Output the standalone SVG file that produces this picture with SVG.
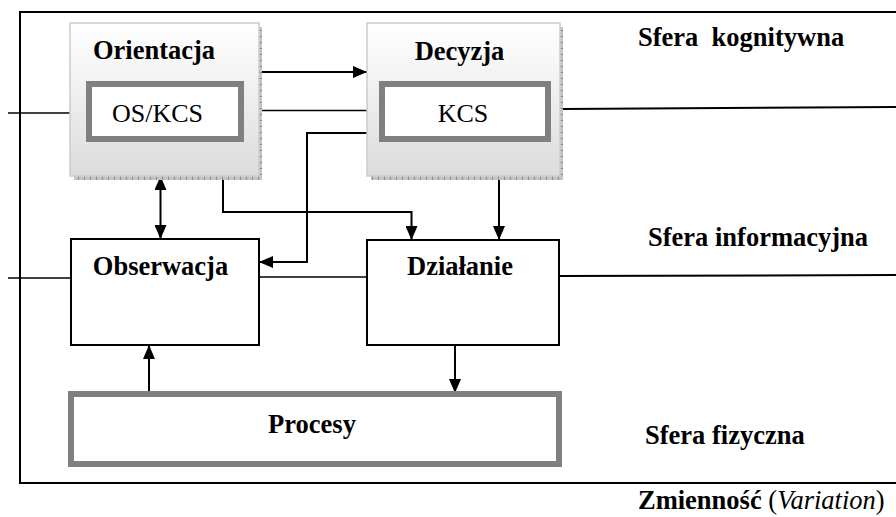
<svg xmlns="http://www.w3.org/2000/svg" width="896" height="517" viewBox="0 0 896 517">
<defs>
<linearGradient id="gbox" x1="0" y1="0" x2="0" y2="1">
<stop offset="0" stop-color="#ffffff"/>
<stop offset="1" stop-color="#dcdcdc"/>
</linearGradient>
<pattern id="hatch" width="6" height="6" patternUnits="userSpaceOnUse">
<rect width="6" height="6" fill="#c4c4c4"/>
<rect x="0" y="0" width="1" height="6" fill="#8a8a8a"/>
<rect x="0" y="0" width="6" height="1" fill="#8a8a8a"/>
</pattern>
<marker id="arr" viewBox="0 0 14 12" refX="14" refY="6" markerWidth="14" markerHeight="12" markerUnits="userSpaceOnUse" orient="auto-start-reverse">
<path d="M0,0 L14,6 L0,12 z" fill="#000"/>
</marker>
</defs>
<style>
.b{font-family:"Liberation Serif","Times New Roman",serif;font-weight:bold;font-size:26.5px;fill:#000}
.r{font-family:"Liberation Serif","Times New Roman",serif;font-size:26px;fill:#000}
.ln{fill:none;stroke:#000;stroke-width:2}
.lt{fill:none;stroke:#000;stroke-width:1.5}
.plain{fill:#fff;stroke:#000;stroke-width:2}
.inner{fill:#fff;stroke:#808080;stroke-width:6}
.grad{fill:url(#gbox);stroke:#cccccc;stroke-width:1.5}
</style>
<rect width="896" height="517" fill="#fff"/>
<g id="frame">
<path class="ln" d="M896,12 H20 V483 H896"/>
</g>
<g id="connectors">
<line class="lt" x1="8" y1="113" x2="70" y2="113"/>
<line class="lt" x1="8" y1="278" x2="71" y2="278"/>
<line class="ln" x1="259" y1="72" x2="367" y2="72" marker-end="url(#arr)"/>
<line class="lt" x1="259" y1="110.5" x2="367" y2="110.5"/>
<path class="ln" d="M367,133 H307 V262 H259" marker-end="url(#arr)"/>
<line class="ln" x1="563" y1="109" x2="896" y2="107"/>
<line class="ln" x1="160.5" y1="176" x2="160.5" y2="239" marker-start="url(#arr)" marker-end="url(#arr)"/>
<path class="ln" d="M223,178 V212 H411.5 V240" marker-end="url(#arr)"/>
<line class="ln" x1="499" y1="178" x2="499" y2="240" marker-end="url(#arr)"/>
<line class="lt" x1="259" y1="277" x2="367" y2="277"/>
<line class="ln" x1="559" y1="276" x2="896" y2="275"/>
<line class="ln" x1="455" y1="345" x2="455" y2="393" marker-end="url(#arr)"/>
<line class="ln" x1="149" y1="394" x2="149" y2="345" marker-end="url(#arr)"/>
</g>
<g id="orientacja">
<rect x="74" y="27" width="188" height="153" fill="url(#hatch)"/>
<rect class="grad" x="70" y="23" width="189" height="153"/>
<rect class="inner" x="89" y="84" width="152" height="55"/>
<text class="b" x="154" y="59" text-anchor="middle">Orientacja</text>
<text class="r" x="157.5" y="122" text-anchor="middle">OS/KCS</text>
</g>
<g id="decyzja">
<rect x="371" y="27" width="192" height="153" fill="url(#hatch)"/>
<rect class="grad" x="367" y="23" width="193" height="153"/>
<rect class="inner" x="382" y="84" width="166" height="55"/>
<text class="b" x="459.5" y="60" text-anchor="middle">Decyzja</text>
<text class="r" x="463" y="122" text-anchor="middle">KCS</text>
</g>
<g id="obserwacja">
<rect class="plain" x="71" y="239" width="188" height="106"/>
<text class="b" x="160.5" y="275" text-anchor="middle">Obserwacja</text>
</g>
<g id="dzialanie">
<rect class="plain" x="367" y="240" width="192" height="105"/>
<text class="b" x="460" y="275" text-anchor="middle">Działanie</text>
</g>
<g id="procesy">
<rect class="inner" x="71" y="394" width="488" height="70"/>
<text class="b" x="312" y="433" text-anchor="middle">Procesy</text>
</g>
<g id="labels">
<text class="b" x="638" y="46" xml:space="preserve" style="white-space:pre">Sfera  kognitywna</text>
<text class="b" x="648" y="246">Sfera informacyjna</text>
<text class="b" x="645" y="444">Sfera fizyczna</text>
<text class="b" x="638" y="509">Zmienność <tspan font-weight="normal">(<tspan font-style="italic">Variation</tspan>)</tspan></text>
</g>
</svg>
